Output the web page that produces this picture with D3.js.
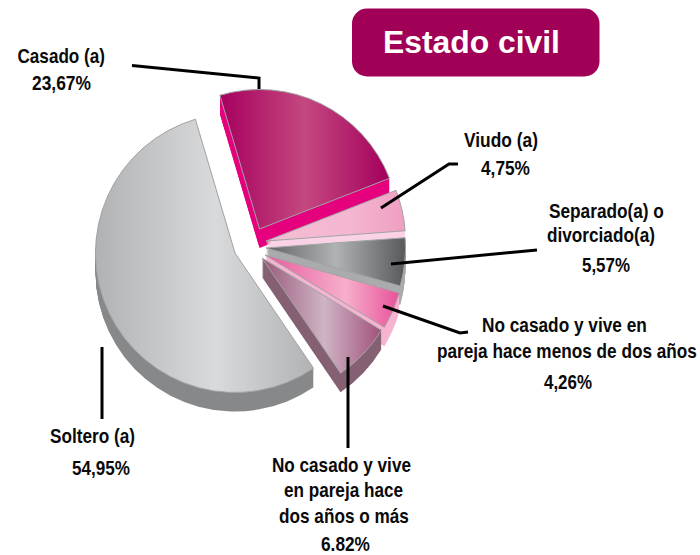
<!DOCTYPE html>
<html><head><meta charset="utf-8">
<script src="https://cdn.jsdelivr.net/npm/d3@7"></script>
<style>html,body{margin:0;padding:0;background:#fff}svg{display:block}
text{font-family:"Liberation Sans",Arial,sans-serif;font-weight:bold;fill:#0a0a0a}</style>
</head><body><svg id="c" width="700" height="555"></svg>
<script>
// Data, clockwise from the top of the pie
const categories = ["Casado (a)","Viudo (a)","Separado(a) o divorciado(a)","No casado y vive en pareja hace menos de dos años","No casado y vive en pareja hace dos años o más","Soltero (a)"];
const values = [23.67,4.75,5.57,4.26,6.82,54.95];
const titleText = "Estado civil";
const labelLines = [
  ["Casado (a)","23,67%"],
  ["Viudo (a)","4,75%"],
  ["Separado(a) o","divorciado(a)","5,57%"],
  ["No casado y vive en","pareja hace menos de dos años","4,26%"],
  ["No casado y vive","en pareja hace","dos años o más","6.82%"],
  ["Soltero (a)","54,95%"]
];
// Layout and styling
const labelBoxes = [
  [[17.5,105,63],[32,91,90]],
  [[464,538,147],[481,530,175]],
  [[549,664,218],[547,655,242],[582,630,272]],
  [[482,647,332],[437,697,358],[544,592,389]],
  [[272,411,472],[284,403,497],[279,409,523],[321,370,550.5]],
  [[50,135,443],[72,130,475]]
];
const apexes = [[259.5,229],[266,241],[266,248],[265,255],[262,258],[235,253]];
const leaders = [
  [[132,65.5],[259,78],[259,89]],
  [[458,164],[449,164],[381,208]],
  [[537,250],[391,264]],
  [[383,306],[460,333],[468,332]],
  [[348,357],[348,448]],
  [[102,347],[102,419]]
];
const faceStops = [
  [[0,"#a6005e"],[.5,"#c4487f"],[1,"#a4005c"]],
  [[0,"#f5bdd4"],[.6,"#f4b6d0"],[1,"#f09fc2"]],
  [[0,"#626364"],[.5,"#b1b2b4"],[1,"#58595b"]],
  [[0,"#e85a9c"],[.6,"#f6afcb"],[1,"#e9519a"]],
  [[0,"#99597a"],[.52,"#cfb4c5"],[1,"#a1517b"]],
  [[0,"#b1b2b4"],[.55,"#d9dadc"],[1,"#b1b2b4"]]
];
const wallColors = ["#e5007d","#f9d3e5","#a9abad","#f6b4d0","#856072","#87888a"];
const radius = 139.5, depth = 19, startDeg = -16.5;

const svg = d3.select("#c");
const defs = svg.append("defs");
const pie = d3.pie().sort(null).value(d=>d)
  .startAngle(startDeg*Math.PI/180).endAngle((startDeg+360)*Math.PI/180);
const arc = d3.arc().innerRadius(0).outerRadius(radius);
const arcs = pie(values);

faceStops.forEach((stops,i)=>{
  const g = defs.append("linearGradient").attr("id","f"+i).attr("x1",0).attr("x2",1).attr("y1",0).attr("y2",0);
  stops.forEach(s=>g.append("stop").attr("offset",s[0]).attr("stop-color",s[1]));
});

const order = [5,0,1,2,3,4];
order.forEach(i=>{
  const g = svg.append("g").attr("transform",`translate(${apexes[i]})`);
  g.selectAll("path.w").data(d3.range(1,depth+1)).join("path")
    .attr("class","w").attr("d",arc(arcs[i])).attr("transform",k=>`translate(0,${k})`)
    .attr("fill",wallColors[i]);
  g.append("path").attr("d",arc(arcs[i])).attr("fill",`url(#f${i})`)
    .attr("stroke","#a2a3a5").attr("stroke-width",1).attr("stroke-linejoin","round");
});

const line = d3.line();
svg.selectAll("path.leader").data(leaders).join("path").attr("class","leader")
  .attr("d",line).attr("fill","none").attr("stroke","#000").attr("stroke-width",3);

svg.append("rect").attr("x",352).attr("y",8.5).attr("width",247.5).attr("height",68).attr("rx",15)
  .attr("fill","#a00055");

// Text squeezed to the measured width with a horizontal scale, so its box stays true
function fitted(t, b, size, fill){
  const el = svg.append("text").attr("font-size",size).style("fill",fill).text(t);
  const w = el.node().getComputedTextLength();
  el.attr("transform",`translate(${b[0]},${b[2]}) scale(${(b[1]-b[0])/w},1)`);
}
fitted(titleText,[383,560,52.5],32,"#fff");
labelLines.forEach((lines,i)=>lines.forEach((t,j)=>fitted(t,labelBoxes[i][j],20,"#0a0a0a")));
</script></body></html>
